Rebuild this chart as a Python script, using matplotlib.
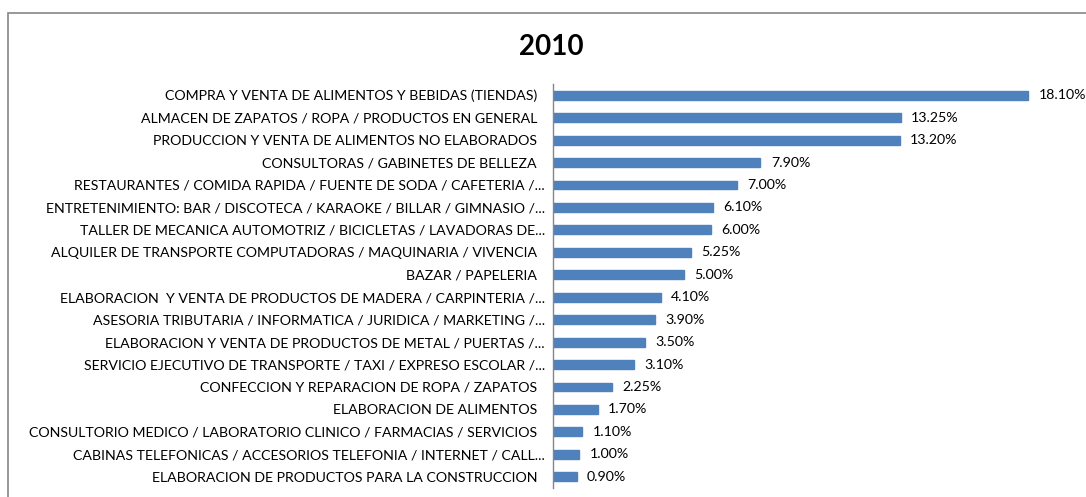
#!/usr/bin/env python3
import matplotlib
matplotlib.use('Agg')
import matplotlib.pyplot as plt
import matplotlib.transforms as mtransforms
from matplotlib.patches import Rectangle

text_size = 10.2
font = ['Lato', 'DejaVu Sans']

categories = [
  'COMPRA Y VENTA DE ALIMENTOS Y BEBIDAS (TIENDAS)',
  'ALMACEN DE ZAPATOS / ROPA / PRODUCTOS EN GENERAL',
  'PRODUCCION Y VENTA DE ALIMENTOS NO ELABORADOS',
  'CONSULTORAS / GABINETES DE BELLEZA',
  'RESTAURANTES / COMIDA RAPIDA / FUENTE DE SODA / CAFETERIA /...',
  'ENTRETENIMIENTO: BAR / DISCOTECA / KARAOKE / BILLAR / GIMNASIO /...',
  'TALLER DE MECANICA AUTOMOTRIZ / BICICLETAS / LAVADORAS DE...',
  'ALQUILER DE TRANSPORTE COMPUTADORAS / MAQUINARIA / VIVENCIA',
  'BAZAR / PAPELERIA',
  'ELABORACION  Y VENTA DE PRODUCTOS DE MADERA / CARPINTERIA /...',
  'ASESORIA TRIBUTARIA / INFORMATICA / JURIDICA / MARKETING /...',
  'ELABORACION Y VENTA DE PRODUCTOS DE METAL / PUERTAS /...',
  'SERVICIO EJECUTIVO DE TRANSPORTE / TAXI / EXPRESO ESCOLAR /...',
  'CONFECCION Y REPARACION DE ROPA / ZAPATOS',
  'ELABORACION DE ALIMENTOS',
  'CONSULTORIO MEDICO / LABORATORIO CLINICO / FARMACIAS / SERVICIOS',
  'CABINAS TELEFONICAS / ACCESORIOS TELEFONIA / INTERNET / CALL...',
  'ELABORACION DE PRODUCTOS PARA LA CONSTRUCCION',
]
values = [18.10, 13.25, 13.20, 7.90, 7.00, 6.10, 6.00, 5.25, 5.00,
          4.10, 3.90, 3.50, 3.10, 2.25, 1.70, 1.10, 1.00, 0.90]
value_labels = ['%.2f%%' % v for v in values]

def main():
  fig = plt.figure(figsize=(10.86, 4.97), dpi=100)
  ax = fig.add_axes([553 / 1086, 1 - 488 / 497, (1078 - 553) / 1086, (488 - 84) / 497])

  ypos = list(range(len(categories)))
  bars = ax.barh(ypos, values, height=0.4, color='#4F81BD', edgecolor='#4F81BD')
  ax.set_ylim(len(categories) - 0.5, -0.5)
  ax.set_xlim(0, 20)

  ax.set_yticks(ypos)
  ax.set_yticklabels(categories, fontsize=text_size, family=font)
  ax.tick_params(axis='y', length=0, pad=11.5)
  ax.set_xticks([])
  # excel lets the truncated labels run a little further right
  shift = mtransforms.ScaledTranslation(8 / 100, 0, fig.dpi_scale_trans)
  for lbl, cat in zip(ax.get_yticklabels(), categories):
    if cat.endswith('...'):
      lbl.set_transform(lbl.get_transform() + shift)

  for bar, txt in zip(bars, value_labels):
    ax.annotate(txt, (bar.get_width(), bar.get_y() + bar.get_height() / 2),
                xytext=(7.5, 0), textcoords='offset points', va='center',
                ha='left', fontsize=text_size, family=font, annotation_clip=False)

  for side in ['top', 'right', 'bottom']:
    ax.spines[side].set_visible(False)
  ax.spines['left'].set_color('#868686')
  ax.spines['left'].set_linewidth(1)

  fig.text(551 / 1086, 1 - 47 / 497, '2010', ha='center', va='center',
           fontsize=20, fontweight='bold', family=font)

  # chart border (cut off at right and bottom)
  fig.patches.append(Rectangle((8 / 1086, -0.1), 1.2, 1.1 - 13 / 497,
                               transform=fig.transFigure, fill=False,
                               edgecolor='#868686', linewidth=1.2))

  fig.savefig('out.png', dpi=100)

if __name__ == '__main__':
  main()
